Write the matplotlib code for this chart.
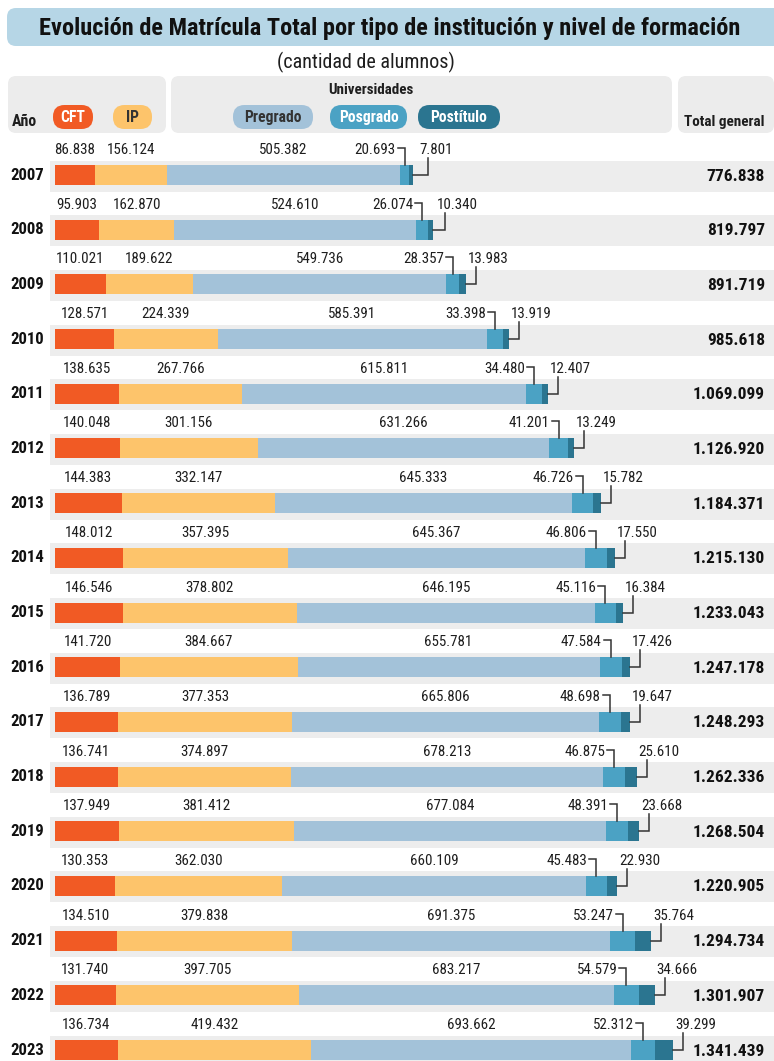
import matplotlib
matplotlib.use("Agg")
import matplotlib.pyplot as plt
from matplotlib import font_manager as fm
from matplotlib.patches import FancyBboxPatch, Rectangle

# ---------------- data ----------------
years = ["2007", "2008", "2009", "2010", "2011", "2012", "2013", "2014", "2015",
         "2016", "2017", "2018", "2019", "2020", "2021", "2022", "2023"]
cft = [86838, 95903, 110021, 128571, 138635, 140048, 144383, 148012, 146546,
       141720, 136789, 136741, 137949, 130353, 134510, 131740, 136734]
ip = [156124, 162870, 189622, 224339, 267766, 301156, 332147, 357395, 378802,
      384667, 377353, 374897, 381412, 362030, 379838, 397705, 419432]
pregrado = [505382, 524610, 549736, 585391, 615811, 631266, 645333, 645367, 646195,
            655781, 665806, 678213, 677084, 660109, 691375, 683217, 693662]
posgrado = [20693, 26074, 28357, 33398, 34480, 41201, 46726, 46806, 45116,
            47584, 48698, 46875, 48391, 45483, 53247, 54579, 52312]
postitulo = [7801, 10340, 13983, 13919, 12407, 13249, 15782, 17550, 16384,
             17426, 19647, 25610, 23668, 22930, 35764, 34666, 39299]
totals = [776838, 819797, 891719, 985618, 1069099, 1126920, 1184371, 1215130, 1233043,
          1247178, 1248293, 1262336, 1268504, 1220905, 1294734, 1301907, 1341439]
series_names = ["CFT", "IP", "Pregrado", "Posgrado", "Postítulo"]
colors = ["#f15a24", "#fdc46b", "#a3c2d9", "#4ba2c4", "#2b7590"]
title = "Evolución de Matrícula Total por tipo de institución y nivel de formación"
subtitle = "(cantidad de alumnos)"


def fmt(v):
    return f"{v:,}".replace(",", ".")


# ---------------- fonts ----------------
def has_font(name):
    try:
        fm.findfont(fm.FontProperties(family=name), fallback_to_default=False)
        return True
    except Exception:
        return False


COND = next((f for f in ["Liberation Sans Narrow", "Roboto Condensed", "Open Sans Condensed",
                         "Noto Sans Condensed", "Open Sans", "Noto Sans"] if has_font(f)), "DejaVu Sans")
REG = COND

W, H = 774, 1061
fig = plt.figure(figsize=(W / 100, H / 100), dpi=100)
fig.patch.set_facecolor("white")

# pixel-coordinate decoration axes
deco = fig.add_axes([0, 0, 1, 1])
deco.set_xlim(0, W)
deco.set_ylim(H, 0)
deco.axis("off")

# data axes: x in students, y in row index
S = 618.0 / 1341439  # px per student
X0 = 55.0
Y0 = 175.0
DY = 54.69
ax = fig.add_axes([0, 0, 1, 1])
ax.set_xlim(-X0 / S, (W - X0) / S)
ax.set_ylim((H - Y0) / DY, -Y0 / DY)
ax.axis("off")
ax.patch.set_alpha(0)

renderer = fig.canvas.get_renderer()


def fit_size(text, family, weight, target_w):
    t = fig.text(0, 0, text, fontsize=10, family=family, weight=weight)
    w = t.get_window_extent(renderer).width
    t.remove()
    return 10 * target_w / w


def px(d):  # pixel distance -> data x distance
    return d / S


def py(d):  # pixel distance -> data y distance
    return d / DY


TXT = "#1e1e1e"

# ---------------- title ----------------
deco.add_patch(FancyBboxPatch((7, 8), W + 20, 38, boxstyle="round,pad=0,rounding_size=9",
                              fc="#b6d6e6", ec="none"))
deco.text(390, 28, title, ha="center", va="center", family=COND, weight="bold", color="#111",
          fontsize=fit_size(title, COND, "bold", 704))
deco.text(366, 62, subtitle, ha="center", va="center", family=COND, color=TXT,
          fontsize=fit_size(subtitle, COND, "normal", 178))

# ---------------- header ----------------
for x0, x1 in [(8, 166), (171, 672), (678, 774)]:
    deco.add_patch(FancyBboxPatch((x0, 76), x1 - x0, 57, boxstyle="round,pad=0,rounding_size=8",
                                  fc="#ececec", ec="none"))
hsz = fit_size("Total general", COND, "bold", 80)
deco.text(12, 121, "Año", ha="left", va="center", family=COND, weight="bold", color=TXT,
          fontsize=fit_size("Año", COND, "bold", 25))
deco.text(765, 122, "Total general", ha="right", va="center", family=COND, weight="bold",
          color=TXT, fontsize=hsz)
deco.text(371, 90, "Universidades", ha="center", va="center", family=COND, weight="bold",
          color=TXT, fontsize=fit_size("Universidades", COND, "bold", 86))

pills = [(53, 93), (113, 152), (233, 313), (330, 407), (418, 500)]
pill_txt = ["#ffffff", "#333333", "#333333", "#ffffff", "#ffffff"]
psz = fit_size("Posgrado", COND, "bold", 60)
for (x0, x1), name, c, tc in zip(pills, series_names, colors, pill_txt):
    deco.add_patch(FancyBboxPatch((x0, 105), x1 - x0, 24, boxstyle="round,pad=0,rounding_size=11.5",
                                  fc=c, ec="none"))
    deco.text((x0 + x1) / 2, 117.5, name, ha="center", va="center", family=COND, weight="bold",
              color=tc, fontsize=psz)

# ---------------- rows ----------------
rows = list(range(len(years)))
xmin, xmax = ax.get_xlim()
for r in rows:
    ax.add_patch(Rectangle((-px(5), r - py(14.5)), xmax + px(5), py(31),
                           fc="#ededed", ec="none", zorder=0))

series = [cft, ip, pregrado, posgrado, postitulo]
left = [0] * len(years)
bar_h = py(20)
for vals, c in zip(series, colors):
    ax.barh(rows, vals, left=left, height=bar_h, color=c, edgecolor="none", zorder=2)
    left = [a + b for a, b in zip(left, vals)]

nsz = fit_size("505.382", REG, "normal", 48)
ysz = fit_size("2007", REG, "bold", 34)
tsz = fit_size("776.838", REG, "bold", 58)
LAB = py(25)
LC = "#333333"
LW = 1.1
for r in rows:
    y_lab = r - LAB
    c0 = 0
    # CFT, IP, Pregrado labels centered on segment
    for vals in (cft, ip, pregrado):
        v = vals[r]
        ax.text(c0 + v / 2, y_lab, fmt(v), ha="center", va="center", family=REG,
                fontsize=nsz, color=TXT, zorder=4)
        c0 += v
    # Posgrado bracket label
    pv = posgrado[r]
    pcx = c0 + pv / 2
    ax.text(pcx - px(9), y_lab, fmt(pv), ha="right", va="center", family=REG,
            fontsize=nsz, color=TXT, zorder=4)
    ax.plot([pcx - px(7), pcx, pcx], [y_lab - py(2), y_lab - py(2), r - bar_h / 2],
            color=LC, lw=LW, zorder=3, solid_joinstyle="miter")
    c0 += pv
    # Postitulo bracket label
    tv = postitulo[r]
    end = c0 + tv
    lab_left = max(end + px(2), pcx + px(15))
    vx = lab_left + px(8)
    ax.text(lab_left, y_lab, fmt(tv), ha="left", va="center", family=REG,
            fontsize=nsz, color=TXT, zorder=4)
    ax.plot([end, vx, vx], [r, r, y_lab + py(8)], color=LC, lw=LW, zorder=3,
            solid_joinstyle="miter")
    # year and total
    ax.text(-px(28), r, years[r], ha="center", va="center", family=REG, weight="bold",
            fontsize=ysz, color="#111", zorder=4)
    ax.text(xmin + px(765), r + py(1), fmt(totals[r]), ha="right", va="center", family=REG,
            weight="bold", fontsize=tsz, color="#111", zorder=4)

fig.savefig("out.png", dpi=100, facecolor="white")
